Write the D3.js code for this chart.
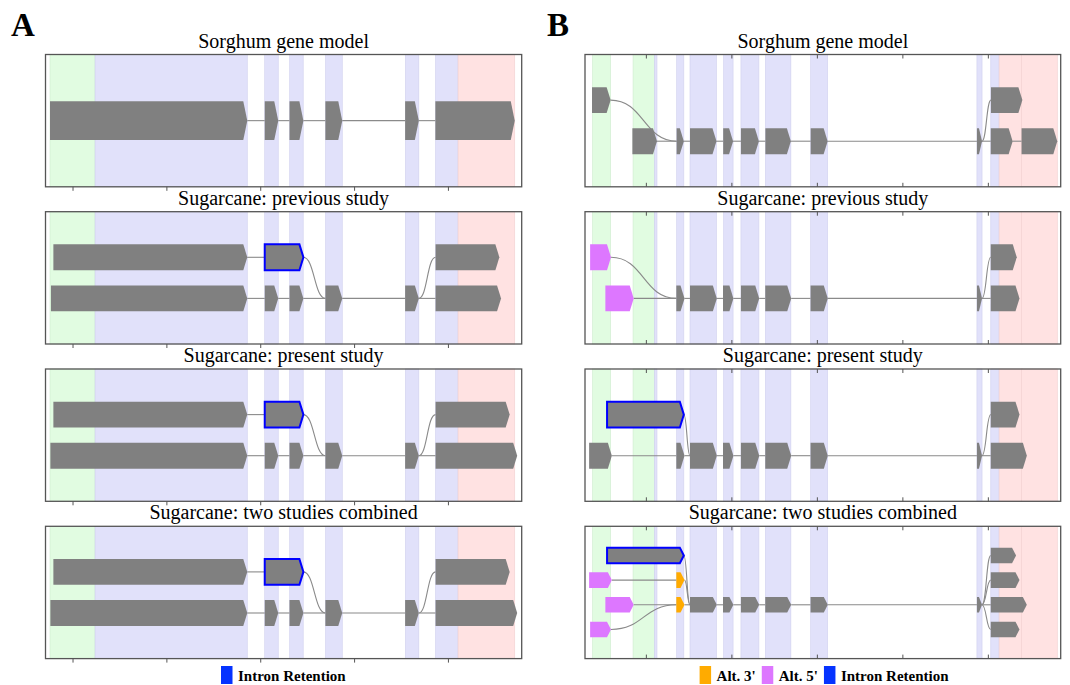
<!DOCTYPE html>
<html>
<head>
<meta charset="utf-8">
<script src="https://cdn.jsdelivr.net/npm/d3@7"></script>
<style>
  html, body { margin: 0; padding: 0; background: #fff; }
  svg { display: block; }
  text { font-family: "Liberation Serif", "Times New Roman", serif; fill: #000; }
</style>
</head>
<body>
<svg id="fig" width="1070" height="685"></svg>
<script>
// ---- data -------------------------------------------------------------
const panelTitles = [
  "Sorghum gene model",
  "Sugarcane: previous study",
  "Sugarcane: present study",
  "Sugarcane: two studies combined"
];

// Gene A: genomic ticks and feature shading (bp)
const aTicks = [500, 1000, 1500, 2000, 2500];
const aDomain = [356, 2893];
const aUtr5 = [[380, 620]];
const aCds = [[620, 1431], [1524, 1596], [1657, 1729], [1848, 1937], [2273, 2345], [2434, 2554]];
const aUtr3 = [[2554, 2856]];

// exon = [start, end, row, kind]; kind: n normal, ir intron retention, a5 alt 5', a3 alt 3'
// link = [fromExon, toExon]
const aRows = [1, 2, 2, 2];
const aExons = [
  [[380, 1431, 0, "n"], [1524, 1596, 0, "n"], [1656, 1730, 0, "n"], [1847, 1937, 0, "n"], [2272, 2345, 0, "n"], [2433, 2856, 0, "n"]],
  [[398, 1431, 0, "n"], [1524, 1730, 0, "ir"], [2434, 2774, 0, "n"],
   [385, 1431, 1, "n"], [1524, 1596, 1, "n"], [1656, 1730, 1, "n"], [1847, 1937, 1, "n"], [2272, 2345, 1, "n"], [2434, 2783, 1, "n"]],
  [[398, 1431, 0, "n"], [1524, 1730, 0, "ir"], [2434, 2829, 0, "n"],
   [382, 1431, 1, "n"], [1524, 1596, 1, "n"], [1656, 1730, 1, "n"], [1847, 1937, 1, "n"], [2272, 2345, 1, "n"], [2434, 2869, 1, "n"]],
  [[398, 1431, 0, "n"], [1524, 1730, 0, "ir"], [2434, 2829, 0, "n"],
   [382, 1431, 1, "n"], [1524, 1596, 1, "n"], [1656, 1730, 1, "n"], [1847, 1937, 1, "n"], [2272, 2345, 1, "n"], [2434, 2869, 1, "n"]]
];
const aLinks = [
  [[0, 1], [1, 2], [2, 3], [3, 4], [4, 5]],
  [[0, 1], [1, 6], [7, 2], [3, 4], [4, 5], [5, 6], [6, 7], [7, 8]],
  [[0, 1], [1, 6], [7, 2], [3, 4], [4, 5], [5, 6], [6, 7], [7, 8]],
  [[0, 1], [1, 6], [7, 2], [3, 4], [4, 5], [5, 6], [6, 7], [7, 8]]
];

// Gene B
const bTicks = [1000, 1500, 2000, 2500, 3000];
const bDomain = [644, 3426];
const bUtr5 = [[688, 794], [925, 1050]];
const bCds = [[1050, 1065], [1180, 1222], [1258, 1413], [1455, 1510], [1556, 1661], [1699, 1848], [1964, 2063], [2936, 2966], [3017, 3066]];
const bUtr3 = [[3066, 3202], [3197, 3406]];

const bRows = [2, 2, 2, 4];
const bExons = [
  [[685, 794, 0, "n"], [3018, 3202, 0, "n"],
   [921, 1065, 1, "n"], [1180, 1222, 1, "n"], [1258, 1413, 1, "n"], [1452, 1510, 1, "n"], [1556, 1661, 1, "n"],
   [1699, 1848, 1, "n"], [1964, 2063, 1, "n"], [2936, 2966, 1, "n"], [3017, 3145, 1, "n"], [3197, 3406, 1, "n"]],
  [[674, 796, 0, "a5"], [3017, 3169, 0, "n"],
   [763, 929, 1, "a5"], [1178, 1226, 1, "n"], [1258, 1415, 1, "n"], [1451, 1512, 1, "n"], [1556, 1663, 1, "n"],
   [1698, 1850, 1, "n"], [1963, 2064, 1, "n"], [2936, 2966, 1, "n"], [3017, 3185, 1, "n"]],
  [[773, 1222, 0, "ir"], [3017, 3185, 0, "n"],
   [668, 801, 1, "n"], [1178, 1226, 1, "n"], [1258, 1415, 1, "n"], [1451, 1512, 1, "n"], [1556, 1663, 1, "n"],
   [1698, 1850, 1, "n"], [1963, 2064, 1, "n"], [2936, 2966, 1, "n"], [3017, 3228, 1, "n"]],
  [[773, 1222, 0, "ir"], [3017, 3165, 0, "n"],
   [668, 801, 1, "a5"], [1178, 1226, 1, "a3"], [3017, 3185, 1, "n"],
   [763, 929, 2, "a5"], [1178, 1226, 2, "a3"], [1258, 1415, 2, "n"], [1451, 1512, 2, "n"], [1556, 1663, 2, "n"],
   [1698, 1850, 2, "n"], [1963, 2064, 2, "n"], [2936, 2966, 2, "n"], [3017, 3228, 2, "n"],
   [674, 796, 3, "a5"], [3017, 3185, 3, "n"]]
];
const bLinks = [
  [[0, 3], [2, 3], [3, 4], [4, 5], [5, 6], [6, 7], [7, 8], [8, 9], [9, 1], [9, 10], [10, 11]],
  [[0, 3], [2, 3], [3, 4], [4, 5], [5, 6], [6, 7], [7, 8], [8, 9], [9, 1], [9, 10]],
  [[0, 4], [2, 3], [3, 4], [4, 5], [5, 6], [6, 7], [7, 8], [8, 9], [9, 1], [9, 10]],
  [[0, 7], [2, 3], [3, 7], [5, 6], [6, 7], [7, 8], [8, 9], [9, 10], [10, 11], [11, 12],
   [12, 1], [12, 4], [12, 13], [12, 15], [14, 6]]
];

const aLegend = [["Intron Retention", "ir"]];
const bLegend = [["Alt. 3'", "a3"], ["Alt. 5'", "a5"], ["Intron Retention", "ir"]];

// ---- styling ----------------------------------------------------------
const fillOf = { n: "#808080", ir: "#808080", a5: "#dd77ff", a3: "#ffab00" };
const legendColor = { ir: "#0533ff", a5: "#dd77ff", a3: "#ffab00" };
const shadeStyle = {
  utr5: { fill: "#e1fce1", stroke: "#cfeccf" },
  cds:  { fill: "#e1e1fa", stroke: "#d0d0ee" },
  utr3: { fill: "#ffe2e2", stroke: "#f0cfcf" }
};
const panelTops = [54.5, 211.7, 369, 526.3];
const panelH = 132.3;
const rowPad = { 1: 1.07, 2: 1.11, 4: 1.18 };
const exonH = 0.63;

const svg = d3.select("#fig");

function drawColumn(cfg) {
  const x = d3.scaleLinear().domain(cfg.domain).range([cfg.x0, cfg.x1]);
  const cx = (cfg.x0 + cfg.x1) / 2;

  // panel letter
  svg.append("text").attr("x", cfg.letterX).attr("y", 36)
    .attr("font-size", 33).attr("font-weight", "bold").text(cfg.letter);

  panelTitles.forEach((title, p) => {
    const top = panelTops[p];
    const n = cfg.rows[p];
    const m = rowPad[n];
    const y = d3.scaleLinear().domain([-m, (n - 1) + m]).range([top, top + panelH]);
    const g = svg.append("g");

    svg.append("text").attr("x", cx).attr("y", top - 7)
      .attr("text-anchor", "middle").attr("font-size", 20).text(title);

    // feature shading
    const shades = [
      ...cfg.utr5.map(d => [d, "utr5"]),
      ...cfg.cds.map(d => [d, "cds"]),
      ...cfg.utr3.map(d => [d, "utr3"])
    ];
    g.selectAll("rect.shade").data(shades).join("rect")
      .attr("class", "shade")
      .attr("x", d => x(d[0][0])).attr("width", d => x(d[0][1]) - x(d[0][0]))
      .attr("y", top).attr("height", panelH)
      .attr("fill", d => shadeStyle[d[1]].fill)
      .attr("stroke", d => shadeStyle[d[1]].stroke).attr("stroke-width", 0.6);

    const exons = cfg.exons[p];
    const links = cfg.links[p];

    // junction lines
    g.selectAll("path.link").data(links).join("path")
      .attr("class", "link")
      .attr("d", ([i, j]) => {
        const a = exons[i], b = exons[j];
        const x1 = x(a[1]), y1 = y(a[2]), x2 = x(b[0]), y2 = y(b[2]);
        if (a[2] === b[2]) return `M${x1},${y1}L${x2},${y2}`;
        const mx = (x1 + x2) / 2;
        return `M${x1},${y1}C${mx},${y1} ${mx},${y2} ${x2},${y2}`;
      })
      .attr("fill", "none").attr("stroke", "#8a8a8a").attr("stroke-width", 1.1);

    // exons as arrow-ended blocks
    const hh = (y(exonH) - y(0)) / 2;
    g.selectAll("path.exon").data(exons).join("path")
      .attr("class", "exon")
      .attr("d", d => {
        const x0 = x(d[0]), x1 = x(d[1]), yc = y(d[2]);
        const tip = Math.min(4, (x1 - x0) * 0.6);
        return `M${x0},${yc - hh}L${x1 - tip},${yc - hh}L${x1},${yc}L${x1 - tip},${yc + hh}L${x0},${yc + hh}Z`;
      })
      .attr("fill", d => fillOf[d[3]])
      .attr("stroke", d => d[3] === "ir" ? "#0000ff" : "none")
      .attr("stroke-width", d => d[3] === "ir" ? 2 : 0)
      .attr("stroke-linejoin", "miter");

    // frame
    g.append("rect").attr("x", cfg.x0).attr("y", top)
      .attr("width", cfg.x1 - cfg.x0).attr("height", panelH)
      .attr("fill", "none").attr("stroke", "#555").attr("stroke-width", 1.3);

    // tick marks (no labels)
    if (cfg.tickIn) {
      const bot = g.append("g").attr("transform", `translate(0,${top + panelH})`)
        .call(d3.axisBottom(x).tickValues(cfg.ticks).tickSize(-4).tickFormat(""));
      const tp = g.append("g").attr("transform", `translate(0,${top})`)
        .call(d3.axisTop(x).tickValues(cfg.ticks).tickSize(-4).tickFormat(""));
      [bot, tp].forEach(a => { a.select(".domain").remove(); a.selectAll("line").attr("stroke", "#555"); });
    } else {
      const bot = g.append("g").attr("transform", `translate(0,${top + panelH})`)
        .call(d3.axisBottom(x).tickValues(cfg.ticks).tickSize(4).tickFormat(""));
      bot.select(".domain").remove();
      bot.selectAll("line").attr("stroke", "#555");
    }
  });

  // legend
  const lg = svg.append("g");
  let lx = cfg.legendX;
  cfg.legend.forEach(([label, kind]) => {
    lg.append("rect").attr("x", lx).attr("y", 666).attr("width", 11.5).attr("height", 18)
      .attr("fill", legendColor[kind]);
    const t = lg.append("text").attr("x", lx + 17).attr("y", 681)
      .attr("font-size", 15).attr("font-weight", "bold").text(label);
    lx += 17 + t.node().getComputedTextLength() + 6;
  });
}

drawColumn({
  letter: "A", letterX: 11, x0: 45.5, x1: 521.7, domain: aDomain, ticks: aTicks, tickIn: false,
  rows: aRows, exons: aExons, links: aLinks, utr5: aUtr5, cds: aCds, utr3: aUtr3,
  legend: aLegend, legendX: 221
});
drawColumn({
  letter: "B", letterX: 547, x0: 585, x1: 1060.7, domain: bDomain, ticks: bTicks, tickIn: true,
  rows: bRows, exons: bExons, links: bLinks, utr5: bUtr5, cds: bCds, utr3: bUtr3,
  legend: bLegend, legendX: 699.6
});
</script>
</body>
</html>
